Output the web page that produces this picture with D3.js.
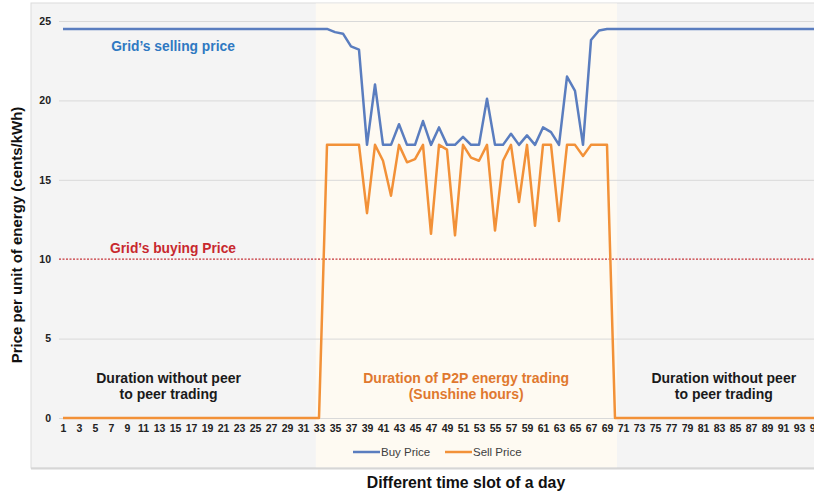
<!DOCTYPE html>
<html>
<head>
<meta charset="utf-8">
<script src="https://cdn.jsdelivr.net/npm/d3@7"></script>
<style>
  body { margin: 0; background: #fff; }
  svg { display: block; font-family: "Liberation Sans", Arial, Helvetica, sans-serif; }
</style>
</head>
<body>
<svg></svg>
<script>
const width = 814, height = 495;
const svg = d3.select("svg").attr("width", width).attr("height", height);

// Data: 96 time slots (15 min each)
const slots = d3.range(1, 97);
const buyPeak = [24.5, 24.5, 24.3, 24.2, 23.4, 23.2, 17.2, 21.0, 17.2, 17.2, 18.5, 17.2, 17.2, 18.7, 17.2, 18.3, 17.2, 17.2, 17.7, 17.2, 17.2, 20.1, 17.2, 17.2, 17.9, 17.2, 17.8, 17.2, 18.3, 18.0, 17.2, 21.5, 20.6, 17.2, 23.8, 24.4, 24.5]; // slots 33..69
const sellPeak = [0, 17.2, 17.2, 17.2, 17.2, 17.2, 12.9, 17.2, 16.2, 14.0, 17.2, 16.1, 16.3, 17.2, 11.6, 17.2, 16.9, 11.5, 17.2, 16.4, 16.2, 17.2, 11.8, 16.2, 17.2, 13.6, 17.2, 12.1, 17.2, 17.2, 12.4, 17.2, 17.2, 16.5, 17.2, 17.2, 17.2]; // slots 33..69
const gridSelling = 24.5;
const gridBuying = 10;
const buyPrice = slots.map(s => s >= 33 && s <= 69 ? buyPeak[s - 33] : gridSelling);
const sellPrice = slots.map(s => s >= 33 && s <= 69 ? sellPeak[s - 33] : 0);
const yTicks = [0, 5, 10, 15, 20, 25];
const xTicks = slots.filter(s => s % 2 === 1);
const p2pWindow = [32.6, 70.25];

// Scales
const x = d3.scaleLinear().domain([0.5, 96.5]).range([59, 827]);
const y = d3.scaleLinear().domain([0, 25]).range([418, 21]);

// Chart area backgrounds
svg.append("rect").attr("x", 31).attr("y", 3).attr("width", 800).attr("height", 465)
  .attr("fill", "#f4f4f4").attr("stroke", "#dcdcdc").attr("stroke-width", 1);
svg.append("rect").attr("x", x(p2pWindow[0])).attr("y", 3.5)
  .attr("width", x(p2pWindow[1]) - x(p2pWindow[0])).attr("height", 464)
  .attr("fill", "#fefaf2");
svg.append("line").attr("x1", 31).attr("x2", 814).attr("y1", 468.5).attr("y2", 468.5)
  .attr("stroke", "#d6d6d6").attr("stroke-width", 2);

// Gridlines
svg.append("g").selectAll("line").data(yTicks.filter(d => d !== gridBuying)).join("line")
  .attr("x1", x.range()[0]).attr("x2", x.range()[1])
  .attr("y1", d => y(d) + 0.5).attr("y2", d => y(d) + 0.5)
  .attr("stroke", "#d9d9d9").attr("stroke-width", 1);

// Grid buying price (dotted red)
svg.append("line").attr("x1", x.range()[0]).attr("x2", x.range()[1])
  .attr("y1", y(gridBuying)).attr("y2", y(gridBuying))
  .attr("stroke", "#c6343a").attr("stroke-width", 1.2).attr("stroke-dasharray", "2,1.5");

// Axes labels
const yAxis = svg.append("g").attr("transform", "translate(51,0)")
  .call(d3.axisLeft(y).tickValues(yTicks).tickSize(0).tickPadding(0));
yAxis.select(".domain").remove();
yAxis.selectAll("text").attr("font-size", "10.5px").attr("font-weight", "bold")
  .attr("fill", "#222").attr("font-family", "Liberation Sans, Arial, sans-serif");

const xAxis = svg.append("g").attr("transform", "translate(0,418)")
  .call(d3.axisBottom(x).tickValues(xTicks).tickFormat(d3.format("d")).tickSize(0).tickPadding(7));
xAxis.select(".domain").remove();
xAxis.selectAll("text").attr("font-size", "10.5px").attr("font-weight", "bold")
  .attr("fill", "#222").attr("font-family", "Liberation Sans, Arial, sans-serif");

// Lines
const line = d3.line().x((d, i) => x(slots[i])).y(d => y(d));
svg.append("path").datum(buyPrice).attr("d", line)
  .attr("fill", "none").attr("stroke", "#5a7dbf").attr("stroke-width", 2.5).attr("stroke-linejoin", "round");
svg.append("path").datum(sellPrice).attr("d", line)
  .attr("fill", "none").attr("stroke", "#f29138").attr("stroke-width", 2.5).attr("stroke-linejoin", "round");

// Annotations
const ann = svg.append("g").attr("font-weight", "bold").attr("text-anchor", "middle");
ann.append("text").attr("x", x(14.75)).attr("y", y(23.1)).attr("font-size", "13.8px")
  .attr("fill", "#2f79c2").text("Grid\u2019s selling price");
ann.append("text").attr("x", x(14.75)).attr("y", y(10.38)).attr("font-size", "13.8px")
  .attr("fill", "#c8282e").text("Grid\u2019s buying Price");
[[14.2, "#1a1a1a", ["Duration without peer", "to peer trading"]],
 [83.6, "#1a1a1a", ["Duration without peer", "to peer trading"]],
 [51.4, "#e0782e", ["Duration of P2P energy trading", "(Sunshine hours)"]]].forEach(([c, col, lines]) => {
  lines.forEach((t, i) => {
    ann.append("text").attr("x", x(c)).attr("y", y(2.2) + i * 16).attr("font-size", "14px")
      .attr("fill", col).text(t);
  });
});

// Legend
const legend = svg.append("g").attr("font-size", "11.5px").attr("fill", "#404040");
[["Buy Price", "#5a7dbf", 353], ["Sell Price", "#f29138", 445]].forEach(([name, col, lx]) => {
  legend.append("line").attr("x1", lx).attr("x2", lx + 27).attr("y1", 452).attr("y2", 452)
    .attr("stroke", col).attr("stroke-width", 2.5);
  legend.append("text").attr("x", lx + 28).attr("y", 456).text(name);
});

// Axis titles
svg.append("text").attr("transform", "translate(22,235) rotate(-90)")
  .attr("text-anchor", "middle").attr("font-size", "15px").attr("font-weight", "bold")
  .attr("fill", "#111").text("Price per unit of energy (cents/kWh)");
svg.append("text").attr("x", 466).attr("y", 488)
  .attr("text-anchor", "middle").attr("font-size", "15.8px").attr("font-weight", "bold")
  .attr("fill", "#111").text("Different time slot of a day");
</script>
</body>
</html>
